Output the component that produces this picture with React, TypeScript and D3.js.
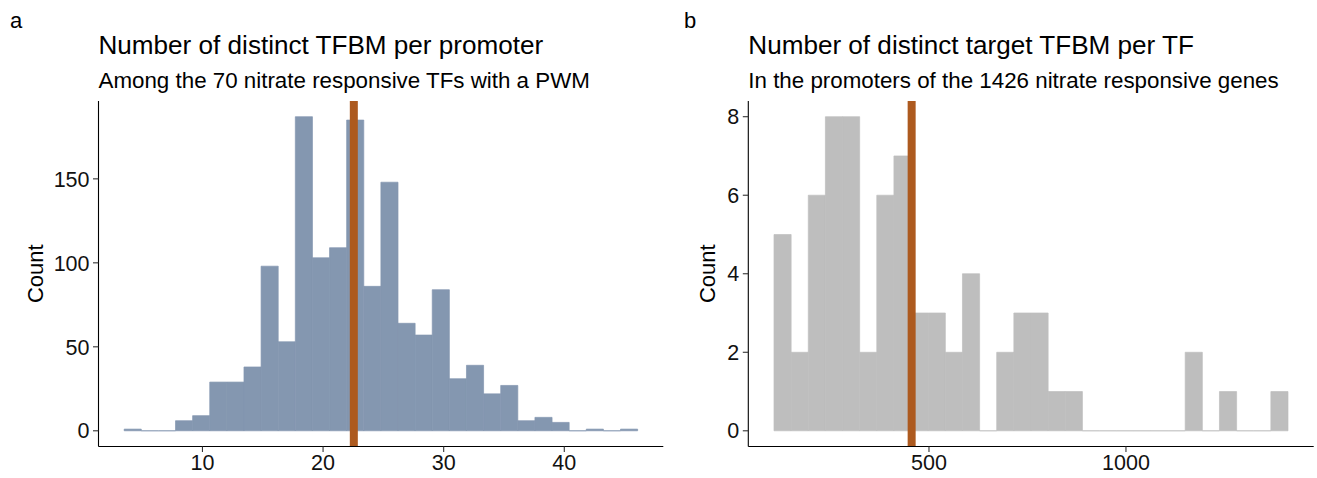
import React from "react";
import * as d3 from "d3";

// Panel a: number of distinct TFBM per promoter (30 bins)
const tfbmPerPromoterCounts = [
  1, 0, 0, 6, 9, 29, 29, 38, 98, 53, 187, 103, 109, 185, 86,
  148, 64, 57, 84, 31, 39, 22, 27, 6, 8, 5, 0, 1, 0, 1,
];
const tfbmBinStart = 3.51;
const tfbmBinWidth = 1.419;
const tfbmMean = 22.55;
const tfbmXTicks = [10, 20, 30, 40];
const tfbmYTicks = [0, 50, 100, 150];

// Panel b: number of distinct target TFBM per TF (30 bins)
const targetsPerTfCounts = [
  5, 2, 6, 8, 8, 2, 6, 7, 3, 3, 2, 4, 0, 2, 3,
  3, 1, 1, 0, 0, 0, 0, 0, 0, 2, 0, 1, 0, 0, 1,
];
const targetsBinStart = 106.6;
const targetsBinWidth = 43.49;
const targetsMean = 456;
const targetsXTicks = [500, 1000];
const targetsYTicks = [0, 2, 4, 6, 8];

const WIDTH = 1317;
const HEIGHT = 478;
const FONT = "'Liberation Sans', Arial, Helvetica, sans-serif";
const PANEL_TOP = 101;
const PANEL_BOTTOM = 446.5;
const MEAN_COLOR = "#AD5A1F";

type PanelProps = {
  left: number;
  right: number;
  counts: number[];
  binStart: number;
  binWidth: number;
  mean: number;
  xTicks: number[];
  yTicks: number[];
  fill: string;
  title: string;
  subtitle: string;
  tag: string;
  tagX: number;
  yLabelX: number;
};

function HistogramPanel(p: PanelProps) {
  const span = p.counts.length * p.binWidth;
  const x = d3
    .scaleLinear()
    .domain([p.binStart - 0.05 * span, p.binStart + span + 0.05 * span])
    .range([p.left, p.right]);
  const yMax = d3.max(p.counts) ?? 1;
  const y = d3
    .scaleLinear()
    .domain([-0.05 * yMax, 1.05 * yMax])
    .range([PANEL_BOTTOM, PANEL_TOP]);

  const bars = p.counts.map((c, i) => {
    const x0 = x(p.binStart + i * p.binWidth);
    const x1 = x(p.binStart + (i + 1) * p.binWidth);
    const path = d3.path();
    path.moveTo(x0, y(0));
    path.lineTo(x0, y(c));
    path.lineTo(x1, y(c));
    path.lineTo(x1, y(0));
    path.closePath();
    return (
      <path
        key={i}
        d={path.toString()}
        fill={p.fill}
        stroke={p.fill}
        strokeWidth={0.7}
      />
    );
  });

  const tickLen = 5.5;
  const axisColor = "#000";
  const tickColor = "#333";
  const labelColor = "#111";
  const midY = (PANEL_TOP + PANEL_BOTTOM) / 2;

  return (
    <g>
      <text x={p.tagX} y={28} fontSize={22} fontFamily={FONT} fill="#000">
        {p.tag}
      </text>
      <text x={p.left} y={54} fontSize={26.1} fontFamily={FONT} fill="#000">
        {p.title}
      </text>
      <text x={p.left} y={88} fontSize={22.35} fontFamily={FONT} fill="#000">
        {p.subtitle}
      </text>

      {bars}

      <line
        x1={x(p.mean)}
        x2={x(p.mean)}
        y1={PANEL_TOP}
        y2={PANEL_BOTTOM}
        stroke={MEAN_COLOR}
        strokeWidth={8}
      />

      {/* axes */}
      <line
        x1={p.left}
        x2={p.left}
        y1={PANEL_TOP}
        y2={PANEL_BOTTOM}
        stroke={axisColor}
        strokeWidth={1.1}
      />
      <line
        x1={p.left}
        x2={p.right}
        y1={PANEL_BOTTOM}
        y2={PANEL_BOTTOM}
        stroke={axisColor}
        strokeWidth={1.1}
      />

      {p.xTicks.map((t) => (
        <g key={"x" + t}>
          <line
            x1={x(t)}
            x2={x(t)}
            y1={PANEL_BOTTOM}
            y2={PANEL_BOTTOM + tickLen}
            stroke={tickColor}
            strokeWidth={1.1}
          />
          <text
            x={x(t)}
            y={PANEL_BOTTOM + 23.5}
            textAnchor="middle"
            fontSize={21.5}
            fontFamily={FONT}
            fill={labelColor}
          >
            {t}
          </text>
        </g>
      ))}

      {p.yTicks.map((t) => (
        <g key={"y" + t}>
          <line
            x1={p.left - tickLen}
            x2={p.left}
            y1={y(t)}
            y2={y(t)}
            stroke={tickColor}
            strokeWidth={1.1}
          />
          <text
            x={p.left - tickLen - 3.5}
            y={y(t) + 7.7}
            textAnchor="end"
            fontSize={21.5}
            fontFamily={FONT}
            fill={labelColor}
          >
            {t}
          </text>
        </g>
      ))}

      <text
        transform={`translate(${p.yLabelX},${midY}) rotate(-90)`}
        textAnchor="middle"
        fontSize={22}
        fontFamily={FONT}
        fill="#000"
      >
        Count
      </text>
    </g>
  );
}

export default function App() {
  return (
    <svg
      width={WIDTH}
      height={HEIGHT}
      viewBox={`0 0 ${WIDTH} ${HEIGHT}`}
      style={{ position: "absolute", left: 0, top: 0, background: "#fff" }}
    >
      <rect width={WIDTH} height={HEIGHT} fill="#fff" />
      <HistogramPanel
        left={98.5}
        right={663.3}
        counts={tfbmPerPromoterCounts}
        binStart={tfbmBinStart}
        binWidth={tfbmBinWidth}
        mean={tfbmMean}
        xTicks={tfbmXTicks}
        yTicks={tfbmYTicks}
        fill="#8497B0"
        title="Number of distinct TFBM per promoter"
        subtitle="Among the 70 nitrate responsive TFs with a PWM"
        tag="a"
        tagX={10}
        yLabelX={43}
      />
      <HistogramPanel
        left={748.3}
        right={1313.7}
        counts={targetsPerTfCounts}
        binStart={targetsBinStart}
        binWidth={targetsBinWidth}
        mean={targetsMean}
        xTicks={targetsXTicks}
        yTicks={targetsYTicks}
        fill="#BEBEBE"
        title="Number of distinct target TFBM per TF"
        subtitle="In the promoters of the 1426 nitrate responsive genes"
        tag="b"
        tagX={684}
        yLabelX={715}
      />
    </svg>
  );
}
